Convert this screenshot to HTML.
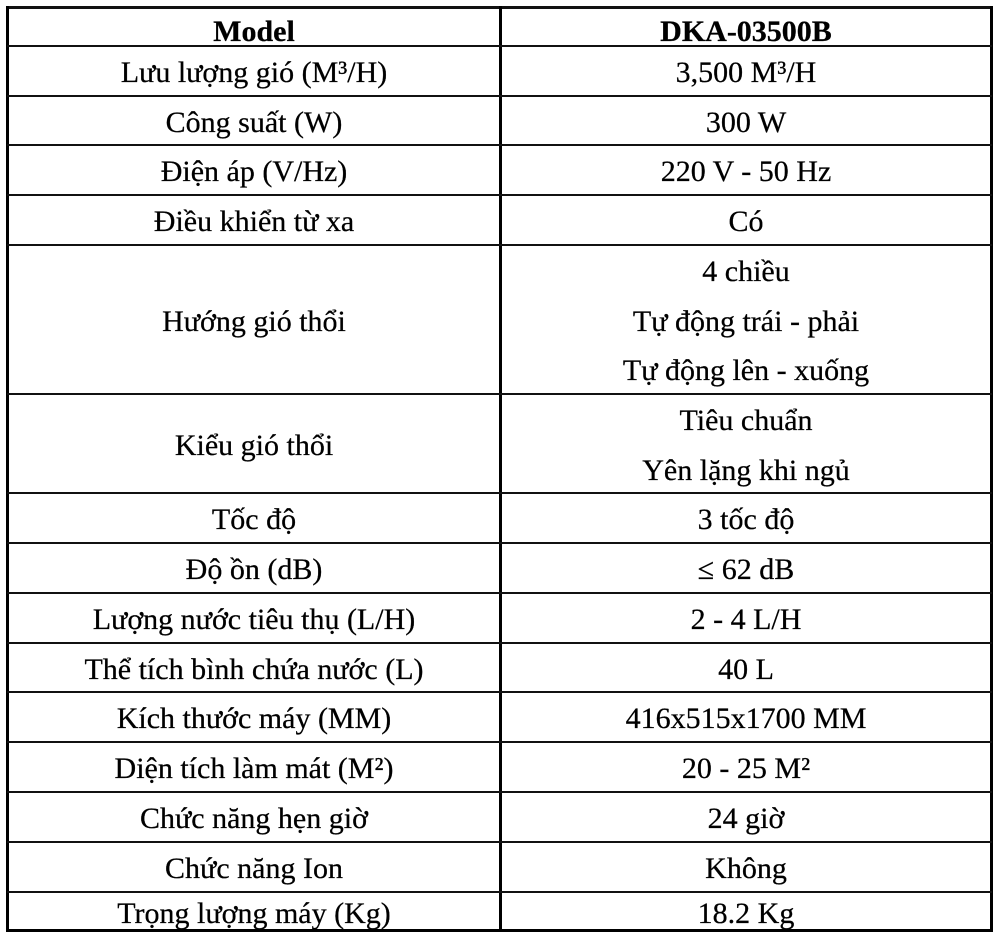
<!DOCTYPE html>
<html>
<head>
<meta charset="utf-8">
<style>
html,body{margin:0;padding:0;background:#fff;}
body{width:1000px;height:938px;position:relative;overflow:hidden;font-family:"Liberation Serif","Times New Roman",serif;color:#000;}
.h{position:absolute;left:7px;width:985px;height:2px;background:#111;}
.b{position:absolute;background:#000;}
.c{position:absolute;display:flex;flex-direction:column;justify-content:center;align-items:center;font-size:30px;line-height:49.5px;padding-top:4px;box-sizing:border-box;white-space:nowrap;-webkit-text-stroke:0.25px #000;}
.l{left:9px;width:490px;}
.r{left:502px;width:488px;}
b{font-weight:bold;}
</style>
</head>
<body>
<!-- outer borders -->
<div class="b" style="left:6px;top:6px;width:987px;height:3px;background:#111"></div>
<div class="b" style="left:6px;top:6px;width:3px;height:926px;"></div>
<div class="b" style="left:990px;top:6px;width:3px;height:926px;"></div>
<div class="b" style="left:6px;top:929px;width:987px;height:3px;"></div>
<div class="b" style="left:499px;top:6px;width:3px;height:926px;"></div>
<!-- row lines -->
<div class="h" style="top:45px"></div>
<div class="h" style="top:95px"></div>
<div class="h" style="top:144px"></div>
<div class="h" style="top:194px"></div>
<div class="h" style="top:244px"></div>
<div class="h" style="top:393px"></div>
<div class="h" style="top:492px"></div>
<div class="h" style="top:542px"></div>
<div class="h" style="top:592px"></div>
<div class="h" style="top:642px"></div>
<div class="h" style="top:691px"></div>
<div class="h" style="top:741px"></div>
<div class="h" style="top:791px"></div>
<div class="h" style="top:841px"></div>
<div class="h" style="top:891px"></div>

<!-- cells -->
<div class="c l" style="top:9px;height:36px;padding-top:9px"><b>Model</b></div>
<div class="c r" style="top:9px;height:36px;padding-top:9px"><b>DKA-03500B</b></div>

<div class="c l" style="top:47px;height:48px">Lưu lượng gió (M³/H)</div>
<div class="c r" style="top:47px;height:48px">3,500 M³/H</div>

<div class="c l" style="top:97px;height:47px">Công suất (W)</div>
<div class="c r" style="top:97px;height:47px">300 W</div>

<div class="c l" style="top:146px;height:48px">Điện áp (V/Hz)</div>
<div class="c r" style="top:146px;height:48px">220 V - 50 Hz</div>

<div class="c l" style="top:196px;height:48px">Điều khiển từ xa</div>
<div class="c r" style="top:196px;height:48px">Có</div>

<div class="c l" style="top:246px;height:147px">Hướng gió thổi</div>
<div class="c r" style="top:246px;height:147px"><div>4 chiều</div><div>Tự động trái - phải</div><div>Tự động lên - xuống</div></div>

<div class="c l" style="top:395px;height:97px">Kiểu gió thổi</div>
<div class="c r" style="top:395px;height:97px"><div>Tiêu chuẩn</div><div>Yên lặng khi ngủ</div></div>

<div class="c l" style="top:494px;height:48px">Tốc độ</div>
<div class="c r" style="top:494px;height:48px">3 tốc độ</div>

<div class="c l" style="top:544px;height:48px">Độ ồn (dB)</div>
<div class="c r" style="top:544px;height:48px">≤ 62 dB</div>

<div class="c l" style="top:594px;height:48px">Lượng nước tiêu thụ (L/H)</div>
<div class="c r" style="top:594px;height:48px">2 - 4 L/H</div>

<div class="c l" style="top:644px;height:47px">Thể tích bình chứa nước (L)</div>
<div class="c r" style="top:644px;height:47px">40 L</div>

<div class="c l" style="top:693px;height:48px">Kích thước máy (MM)</div>
<div class="c r" style="top:693px;height:48px">416x515x1700 MM</div>

<div class="c l" style="top:743px;height:48px">Diện tích làm mát (M²)</div>
<div class="c r" style="top:743px;height:48px">20 - 25 M²</div>

<div class="c l" style="top:793px;height:48px">Chức năng hẹn giờ</div>
<div class="c r" style="top:793px;height:48px">24 giờ</div>

<div class="c l" style="top:843px;height:48px">Chức năng Ion</div>
<div class="c r" style="top:843px;height:48px">Không</div>

<div class="c l" style="top:893px;height:36px;padding-top:6px">Trọng lượng máy (Kg)</div>
<div class="c r" style="top:893px;height:36px;padding-top:6px">18.2 Kg</div>
</body>
</html>
